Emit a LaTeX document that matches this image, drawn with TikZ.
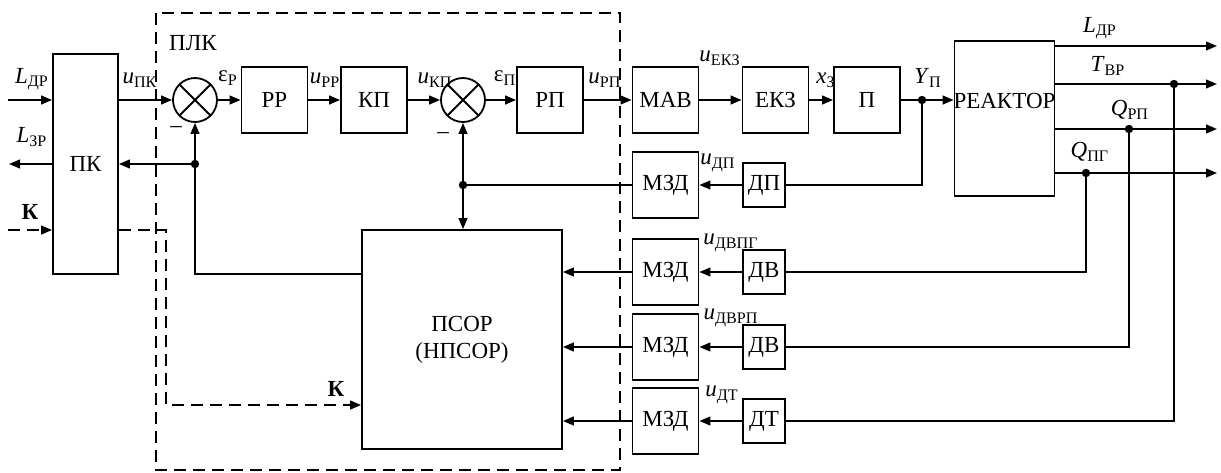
\documentclass[tikz,border=0pt]{standalone}
\usepackage{fontspec}
\setmainfont{Liberation Serif}
\usetikzlibrary{arrows.meta}
\newcommand{\sig}[2]{\textit{#1}\textsubscript{#2}}

\begin{document}
\begin{tikzpicture}[x=0.5pt, y=-0.5pt,
  blk/.style={draw, line width=0.9pt, inner sep=0pt, minimum width=33pt,
              minimum height=33pt, font=\fontsize{11.5}{13.5}\selectfont},
  sens/.style={blk, minimum width=21pt, minimum height=22pt},
  sum/.style={draw, circle, line width=0.9pt, minimum size=22pt, inner sep=0pt,
              path picture={\draw[line width=0.9pt]
                (path picture bounding box.north west) -- (path picture bounding box.south east)
                (path picture bounding box.north east) -- (path picture bounding box.south west);}},
  arr/.style={-{Triangle[length=5.5pt, width=4.4pt]}, line width=0.9pt},
  darr/.style={arr, dash pattern=on 6pt off 3.5pt},
  lbl/.style={font=\fontsize{11.5}{13.5}\selectfont, inner sep=0pt},
]
\useasboundingbox (0,0) rectangle (1221,472);

% ПЛК frame
\draw[line width=0.9pt, dash pattern=on 6pt off 3.5pt] (156,13) rectangle (620,470);
\node[lbl] (plk) at (193,43) {ПЛК};

% forward path
\node[blk, minimum width=32.5pt, minimum height=110pt] (pk) at (85.5,164) {ПК};
\node[sum] (s1) at (195,100) {};
\node[blk] (rr) at (274.5,100) {РР};
\node[blk] (kp) at (374,100) {КП};
\node[sum] (s2) at (463,100) {};
\node[blk] (rp) at (550,100) {РП};
\node[blk] (mav) at (665.5,100) {МАВ};
\node[blk] (ekz) at (775.5,100) {ЕКЗ};
\node[blk] (pr) at (867,100) {П};
\node[blk, minimum width=50pt, minimum height=77.5pt, anchor=north] (reactor) at (1004.5,40) {};
\node[lbl] (reactortxt) at (1004.5,101) {РЕАКТОР};

% measurement blocks
\node[blk, minimum width=100pt, minimum height=109.5pt, align=center] (psor) at (462,339.5) {ПСОР\\(НПСОР)};
\node[blk] (mzd1) at (665.5,185) {МЗД};
\node[blk] (mzd2) at (665.5,272) {МЗД};
\node[blk] (mzd3) at (665.5,347) {МЗД};
\node[blk] (mzd4) at (665.5,421) {МЗД};
\node[sens] (dp) at (764,185) {ДП};
\node[sens] (dv1) at (764,272) {ДВ};
\node[sens] (dv2) at (764,347) {ДВ};
\node[sens] (dt) at (764,421) {ДТ};

\coordinate (ldr) at (8,100);
\coordinate (lzr) at (9,164);
\coordinate (kin) at (8,230);
\coordinate (kc) at (166,405);
\coordinate (yp) at (922,100);
\coordinate (b1) at (195,274);
\coordinate (bk) at (195,164);
\coordinate (b2) at (s2 |- mzd1);
\coordinate (oL) at (1217,46);
\coordinate (oT) at (1217,84);
\coordinate (oQr) at (1217,129);
\coordinate (oQp) at (1217,173);
\coordinate (tT) at (1174,84);
\coordinate (tQr) at (1129,129);
\coordinate (tQp) at (1086,173);

% connectors
\draw[arr] (ldr) -- (ldr -| pk.west);
\draw[arr] (lzr -| pk.west) -- (lzr);
\draw[darr] (kin) -- (kin -| pk.west);
\draw[arr] (s1 -| pk.east) -- (s1);
\draw[arr] (s1) -- (rr);
\draw[arr] (rr) -- (kp);
\draw[arr] (kp) -- (s2);
\draw[arr] (s2) -- (rp);
\draw[arr] (rp) -- (mav);
\draw[arr] (mav) -- (ekz);
\draw[arr] (ekz) -- (pr);
\draw[arr] (pr) -- (pr -| reactor.west);
\foreach \o in {oL, oT, oQr, oQp}
  \draw[arr] (\o -| reactor.east) -- (\o);
\draw[line width=0.9pt] (yp) |- (dp);
\draw[line width=0.9pt] (tQp) |- (dv1);
\draw[line width=0.9pt] (tQr) |- (dv2);
\draw[line width=0.9pt] (tT) |- (dt);
\draw[arr] (dp) -- (mzd1);
\draw[line width=0.9pt] (mzd1) -- (b2);
\draw[arr] (b2) -- (s2);
\draw[arr] (b2) -- (b2 |- psor.north);
\foreach \sen/\mz in {dv1/mzd2, dv2/mzd3, dt/mzd4} {
  \draw[arr] (\sen) -- (\mz);
  \draw[arr] (\mz) -- (\mz -| psor.east);
}
\draw[arr] (psor.west |- b1) -- (b1) -- (s1);
\draw[arr] (bk) -- (bk -| pk.east);
\draw[darr] (kin -| pk.east) -| (kc) -- (kc -| psor.west);
\foreach \c in {yp, b2, bk, tT, tQr, tQp}
  \fill (\c) circle[radius=2.1pt];

% signal labels
\node[lbl] at (32,79) {\sig{L}{ДР}};
\node[lbl] at (32,137) {\sig{L}{ЗР}};
\node[lbl] at (30,212) {\textbf{К}};
\node[lbl] at (140,80) {\sig{u}{ПК}};
\node[lbl] at (176,130) {–};
\node[lbl] at (228,78) {ε\textsubscript{Р}};
\node[lbl] at (325,80) {\sig{u}{РР}};
\node[lbl] at (435,80) {\sig{u}{КП}};
\node[lbl] at (443,136) {–};
\node[lbl] at (505,78) {ε\textsubscript{П}};
\node[lbl] at (605,80) {\sig{u}{РП}};
\node[lbl] at (720,58) {\sig{u}{ЕКЗ}};
\node[lbl] at (826,80) {\sig{x}{З}};
\node[lbl] at (928,78) {\sig{Y}{П}};
\node[lbl] at (1100,28) {\sig{L}{ДР}};
\node[lbl] at (1108,66) {\sig{T}{ВР}};
\node[lbl] at (1130,110) {\sig{Q}{РП}};
\node[lbl] at (1090,152) {\sig{Q}{ПГ}};
\node[lbl] at (718,163) {\sig{u}{ДП}};
\node[lbl] at (731,243) {\sig{u}{ДВПГ}};
\node[lbl] at (731,318) {\sig{u}{ДВРП}};
\node[lbl] at (722,395) {\sig{u}{ДТ}};
\node[lbl] at (336,389) {\textbf{К}};
\end{tikzpicture}
\end{document}
